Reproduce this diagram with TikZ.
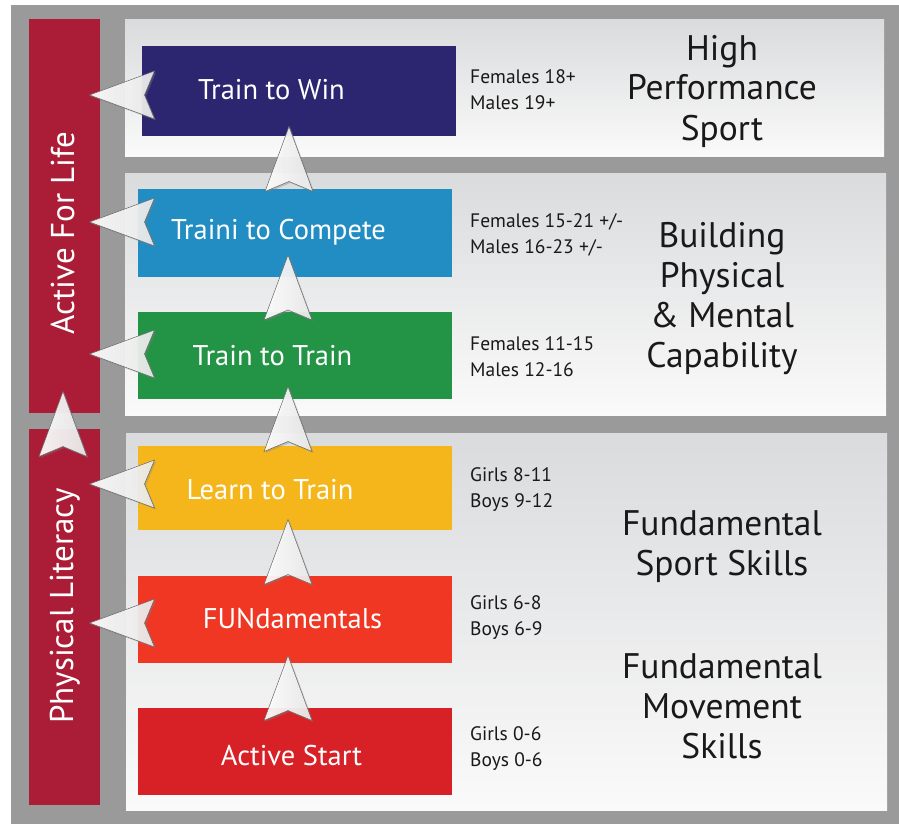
\documentclass[tikz,border=0pt]{standalone}
\usepackage{fontspec}
\setmainfont{PT Sans}
\usetikzlibrary{shadows}
\definecolor{framegray}{HTML}{9A9A9A}
\definecolor{barred}{HTML}{AB1C36}
\definecolor{paneltop}{HTML}{DADBDD}
\definecolor{panelbot}{HTML}{FAFAFA}
\definecolor{winblue}{HTML}{2C2670}
\definecolor{competeblue}{HTML}{228DC2}
\definecolor{traingreen}{HTML}{239446}
\definecolor{learnyellow}{HTML}{F5B61B}
\definecolor{funred}{HTML}{EF3724}
\definecolor{startred}{HTML}{D82027}
\tikzset{
  stage/.style={rectangle,inner sep=0pt,minimum width=314pt},
  stagetext/.style={text=white,font=\fontsize{28.5}{30}\selectfont,inner sep=0pt,anchor=base},
  ages/.style={font=\fontsize{19.5}{26}\selectfont,align=left,anchor=base west,inner sep=0pt,text=black!90},
  level/.style={font=\fontsize{35.5}{40}\selectfont,align=center,anchor=base,inner sep=0pt,text=black!90},
  sidetext/.style={text=white,font=\fontsize{33}{36}\selectfont,rotate=90,anchor=base,inner sep=0pt},
  chevron/.style={left color=white,right color=black!8,fill opacity=0.92,draw=black!60,line width=0.5pt,
    drop shadow={opacity=0.35,shadow xshift=1.5pt,shadow yshift=-1.5pt}},
  uparrow/.pic={\path[chevron] (0,-33) -- (24,32) -- (0,22) -- (-24,32) -- cycle;},
  leftarrow/.pic={\path[chevron] (-33,0) -- (32,-24) -- (22,0) -- (32,24) -- cycle;}
}
\begin{document}
\begin{tikzpicture}[x=1pt,y=-1pt]
\useasboundingbox (0,0) rectangle (899,824);
% frame, side bars and panels
\fill[framegray] (11,5) rectangle (899,824);
\fill[barred] (29,19) rectangle (100,413);
\fill[barred] (29,429) rectangle (100,805);
\shade[top color=paneltop,bottom color=panelbot] (125,20) rectangle (884,156);
\shade[top color=paneltop,bottom color=panelbot] (125,173) rectangle (886,415);
\shade[top color=paneltop,bottom color=panelbot] (126,433) rectangle (887,810);
%
\node (afl) [sidetext] at (74,233) {Active For Life};
\node (pl) [sidetext] at (73,606) {Physical Literacy};
%
\node (win) [stage,fill=winblue,minimum height=90pt] at (298.5,91) {};
\node (compete) [stage,fill=competeblue,minimum height=88pt] at (295,233) {};
\node (train) [stage,fill=traingreen,minimum height=87pt] at (295,355.5) {};
\node (learn) [stage,fill=learnyellow,minimum height=84pt] at (295,488) {};
\node (fun) [stage,fill=funred,minimum height=87pt] at (295,619.5) {};
\node (start) [stage,fill=startred,minimum height=87pt] at (294.5,751.5) {};
%
\node (win-t) [stagetext] at (271.5,100) {Train to Win};
\node (compete-t) [stagetext] at (278.5,239) {Traini to Compete};
\node (train-t) [stagetext] at (272.5,365) {Train to Train};
\node (learn-t) [stagetext] at (270,499) {Learn to Train};
\node (fun-t) [stagetext] at (292.5,628) {FUNdamentals};
\node (start-t) [stagetext] at (291.5,765) {Active Start};
%
\node (win-a) [ages] at (470,110) {Females 18+\\Males 19+};
\node (compete-a) [ages] at (470,253) {Females 15-21 +/-\\Males 16-23 +/-};
\node (train-a) [ages] at (470,376) {Females 11-15\\Males 12-16};
\node (learn-a) [ages] at (470,507) {Girls 8-11\\Boys 9-12};
\node (fun-a) [ages] at (470,635) {Girls 6-8\\Boys 6-9};
\node (start-a) [ages] at (470,766) {Girls 0-6\\Boys 0-6};
%
\node (hps) [level] at (722,140) {High\\Performance\\Sport};
\node (bpm) [level] at (722,367) {Building\\Physical\\\& Mental\\Capability};
\node (fss) [level] at (722,575) {Fundamental\\Sport Skills};
\node (fms) [level] at (722,758) {Fundamental\\Movement\\Skills};
%
\pic (up1) at (289,159.5) {uparrow};
\pic (up2) at (288,288) {uparrow};
\pic (up3) at (288,419.5) {uparrow};
\pic (up4) at (288,552.5) {uparrow};
\pic (up5) at (288,688.5) {uparrow};
\pic (up6) at (63,424.5) {uparrow};
\pic (left1) at (122.5,95) {leftarrow};
\pic (left2) at (122.5,222) {leftarrow};
\pic (left3) at (122.5,354) {leftarrow};
\pic (left4) at (122.5,484) {leftarrow};
\pic (left5) at (122.5,623) {leftarrow};
\end{tikzpicture}
\end{document}
